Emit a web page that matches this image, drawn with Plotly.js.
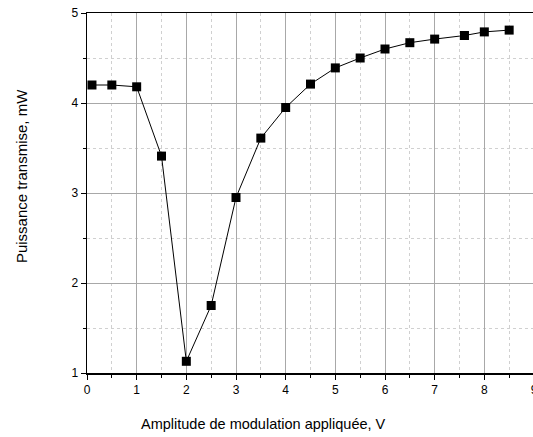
<!DOCTYPE html>
<html>
<head>
<meta charset="utf-8">
<script src="https://cdn.plot.ly/plotly-3.0.1.min.js"></script>
<style>
html,body{margin:0;padding:0;overflow:hidden;background:#fff;}
#chart{width:537px;height:437px;}
</style>
</head>
<body>
<div id="chart"></div>
<script>
const amplitude = [0.1, 0.5, 1.0, 1.5, 2.0, 2.5, 3.0, 3.5, 4.0, 4.5, 5.0, 5.5, 6.0, 6.5, 7.0, 7.6, 8.0, 8.5];
const puissance = [4.2, 4.2, 4.18, 3.41, 1.13, 1.75, 2.95, 3.61, 3.95, 4.21, 4.39, 4.5, 4.6, 4.67, 4.71, 4.75, 4.79, 4.81];
const xTitle = "Amplitude de modulation appliquée, V";
const yTitle = "Puissance transmise, mW";

const trace = {
  x: amplitude,
  y: puissance,
  mode: 'lines+markers',
  type: 'scatter',
  line: {color: '#000', width: 1},
  marker: {symbol: 'square', size: 9, color: '#000'},
  showlegend: false,
  cliponaxis: false
};

const font = {family: '"Liberation Sans", Arial, sans-serif', color: '#000'};

const layout = {
  width: 537,
  height: 437,
  margin: {l: 87, r: 3, t: 13, b: 64},
  paper_bgcolor: '#fff',
  plot_bgcolor: '#fff',
  font: Object.assign({size: 12}, font),
  xaxis: {
    range: [0, 9],
    tickmode: 'linear', tick0: 0, dtick: 1,
    showgrid: true, gridcolor: '#a8a8a8', gridwidth: 1,
    zeroline: false,
    showline: true, linecolor: '#000', linewidth: 1.5, mirror: true,
    ticks: 'outside', ticklen: 5, tickwidth: 1, tickcolor: '#000',
    ticklabeloverflow: 'allow',
    tickfont: Object.assign({size: 12}, font),
    minor: {dtick: 0.5, showgrid: true, gridcolor: '#d0d0d0', griddash: 'dot', gridwidth: 1, ticks: 'outside', ticklen: 3, tickcolor: '#000'}
  },
  yaxis: {
    range: [1, 5],
    tickmode: 'linear', tick0: 1, dtick: 1,
    showgrid: true, gridcolor: '#a8a8a8', gridwidth: 1,
    zeroline: false,
    showline: true, linecolor: '#000', linewidth: 1.5, mirror: false,
    ticks: 'outside', ticklen: 5, tickwidth: 1, tickcolor: '#000',
    tickfont: Object.assign({size: 12}, font),
    minor: {dtick: 0.5, showgrid: true, gridcolor: '#d0d0d0', griddash: 'dot', gridwidth: 1, ticks: 'outside', ticklen: 3, tickcolor: '#000'}
  },
  annotations: [
    {text: xTitle, xref: 'paper', yref: 'paper', x: 0.394, y: -0.1417,
     xanchor: 'center', yanchor: 'middle', showarrow: false,
     font: Object.assign({size: 14.5}, font)},
    {text: yTitle, xref: 'paper', yref: 'paper', x: -0.1477, y: 0.547,
     xanchor: 'center', yanchor: 'middle', showarrow: false, textangle: -90,
     font: Object.assign({size: 15}, font)}
  ]
};

Plotly.newPlot('chart', [trace], layout, {staticPlot: true, displayModeBar: false});
</script>
</body>
</html>
